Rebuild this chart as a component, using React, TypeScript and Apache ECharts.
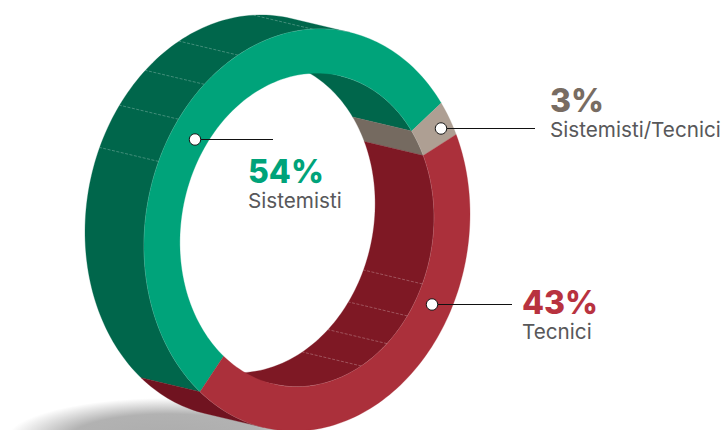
import React, { useEffect, useRef } from "react";
import * as echarts from "echarts";

const categories = ["Sistemisti", "Sistemisti/Tecnici", "Tecnici"];
const shareValues = [54, 3, 43];
const percentLabels = ["54%", "3%", "43%"];
const faceColors = ["#00a37a", "#ae9f93", "#ab303b"];
const outerWallColors = ["#00664b", "#756a60", "#701320"];
const innerWallColors = ["#00664b", "#756a60", "#7e1824"];
const labelColors = ["#00a37a", "#786c62", "#b8323f"];
const outerTickAngles = [204.5, 218, 231, 245, 272];
const innerTickAngles = [24.7, 37.8, 51, 64.7];

// Projection of the ring (an affine circle)
const CX = 307;
const CY = 230;
const RX = 163;
const SKEW = -16;
const RY = 200.4;
const INNER = 0.78;
const DEPTH_X = -59;
const DEPTH_Y = -14;
const START = 131;
const OUTER_VISIBLE: [number, number] = [105.3, 285.3];
const INNER_VISIBLE: [number, number] = [285.3, 465.3];

const project = (deg: number, r: number, back = false): number[] => {
  const t = (deg * Math.PI) / 180;
  const x = CX + r * RX * Math.cos(t) + (back ? DEPTH_X : 0);
  const y = CY + r * (SKEW * Math.cos(t) + RY * Math.sin(t)) + (back ? DEPTH_Y : 0);
  return [x, y];
};

const arc = (a: number, b: number, r: number, back = false): number[][] => {
  const steps = Math.max(2, Math.ceil(Math.abs(b - a) / 1.5));
  const pts: number[][] = [];
  for (let i = 0; i <= steps; i++) pts.push(project(a + ((b - a) * i) / steps, r, back));
  return pts;
};

const sliceRange = (index: number): [number, number] => {
  const total = shareValues.reduce((s, v) => s + v, 0);
  const before = shareValues.slice(0, index).reduce((s, v) => s + v, 0);
  return [START + (before / total) * 360, START + ((before + shareValues[index]) / total) * 360];
};

const clipRange = (r: [number, number], vis: [number, number]): [number, number] | null => {
  for (const shift of [-360, 0, 360]) {
    const a = Math.max(r[0] + shift, vis[0]);
    const b = Math.min(r[1] + shift, vis[1]);
    if (b > a) return [a, b];
  }
  return null;
};

const wallItem = (range: [number, number] | null, r: number, fill: string) => {
  if (!range) return { type: "group", children: [] };
  const [a, b] = range;
  return {
    type: "group",
    children: [
      {
        type: "polygon",
        shape: { points: [...arc(a, b, r), ...arc(b, a, r, true)] },
        style: { fill, stroke: fill, lineWidth: 0.3 },
      },
      {
        type: "polyline",
        shape: { points: arc(a, b, r) },
        style: { fill: "none", stroke: "rgba(255,255,255,0.5)", lineWidth: 0.6 },
      },
    ],
  };
};

const tickItem = (deg: number, r: number) => ({
  type: "line",
  shape: {
    x1: project(deg, r)[0],
    y1: project(deg, r)[1],
    x2: project(deg, r, true)[0],
    y2: project(deg, r, true)[1],
  },
  style: { stroke: "rgba(255,255,255,0.32)", lineWidth: 0.8, lineDash: [3, 1.5] },
});

const common = { type: "custom", coordinateSystem: "none", silent: true, animation: false };

const label = (x: number, y: number, i: number, subText = categories[i]) => [
  {
    type: "text",
    x,
    y,
    style: {
      text: percentLabels[i],
      fill: labelColors[i],
      font: '800 32px Inter, "DejaVu Sans", sans-serif',
      lineHeight: 26,
      textAlign: "left",
      textVerticalAlign: "middle",
    },
  },
  {
    type: "text",
    x,
    y: y + 29,
    style: {
      text: subText,
      fill: "#58585a",
      font: '400 20.7px Inter, "DejaVu Sans", sans-serif',
      lineHeight: 22,
      textAlign: "left",
      textVerticalAlign: "middle",
    },
  },
];

const leader = (x: number, y: number, x2: number) => [
  {
    type: "line",
    z: 10,
    shape: { x1: x, y1: y, x2, y2: y },
    style: { stroke: "#111", lineWidth: 1 },
  },
  {
    type: "circle",
    z: 11,
    shape: { cx: x, cy: y, r: 5.7 },
    style: { fill: "#fff", stroke: "#111", lineWidth: 1 },
  },
];

export default function App() {
  const ref = useRef<HTMLDivElement>(null);
  useEffect(() => {
    const chart = echarts.init(ref.current!, undefined, { renderer: "svg" });
    chart.setOption({
      animation: false,
      backgroundColor: "#fff",
      graphic: [
        {
          type: "ellipse",
          z: -1,
          shape: { cx: 168, cy: 440, rx: 162, ry: 42 },
          style: {
            fill: {
              type: "radial",
              x: 0.5,
              y: 0.5,
              r: 0.5,
              colorStops: [
                { offset: 0, color: "#acacac" },
                { offset: 0.62, color: "#b2b2b2" },
                { offset: 1, color: "#ffffff" },
              ],
            },
          },
        },
        ...leader(195, 139.5, 273),
        ...leader(441, 128.5, 535),
        ...leader(432, 304.5, 512),
        ...label(248, 171, 0),
        ...label(550, 100, 1),
        ...label(522, 302, 2),
      ],
      series: [
        {
          ...common,
          name: "outer wall",
          z: 1,
          data: shareValues,
          renderItem: (p: any) =>
            wallItem(clipRange(sliceRange(p.dataIndex), OUTER_VISIBLE), 1, outerWallColors[p.dataIndex]),
        },
        {
          ...common,
          name: "outer ticks",
          z: 2,
          data: outerTickAngles,
          renderItem: (p: any) => tickItem(outerTickAngles[p.dataIndex], 1),
        },
        {
          ...common,
          name: "inner wall",
          z: 3,
          data: shareValues,
          renderItem: (p: any) =>
            wallItem(clipRange(sliceRange(p.dataIndex), INNER_VISIBLE), INNER, innerWallColors[p.dataIndex]),
        },
        {
          ...common,
          name: "inner ticks",
          z: 4,
          data: innerTickAngles,
          renderItem: (p: any) => tickItem(innerTickAngles[p.dataIndex], INNER),
        },
        {
          ...common,
          name: "face",
          z: 5,
          data: shareValues,
          renderItem: (p: any) => {
            const [a, b] = sliceRange(p.dataIndex);
            const fill = faceColors[p.dataIndex];
            return {
              type: "polygon",
              shape: { points: [...arc(a, b, 1), ...arc(b, a, INNER)] },
              style: { fill, stroke: fill, lineWidth: 0.3 },
            };
          },
        },
      ],
    });
    return () => chart.dispose();
  }, []);
  return <div ref={ref} style={{ position: "fixed", left: 0, top: 0, width: 725, height: 430 }} />;
}
